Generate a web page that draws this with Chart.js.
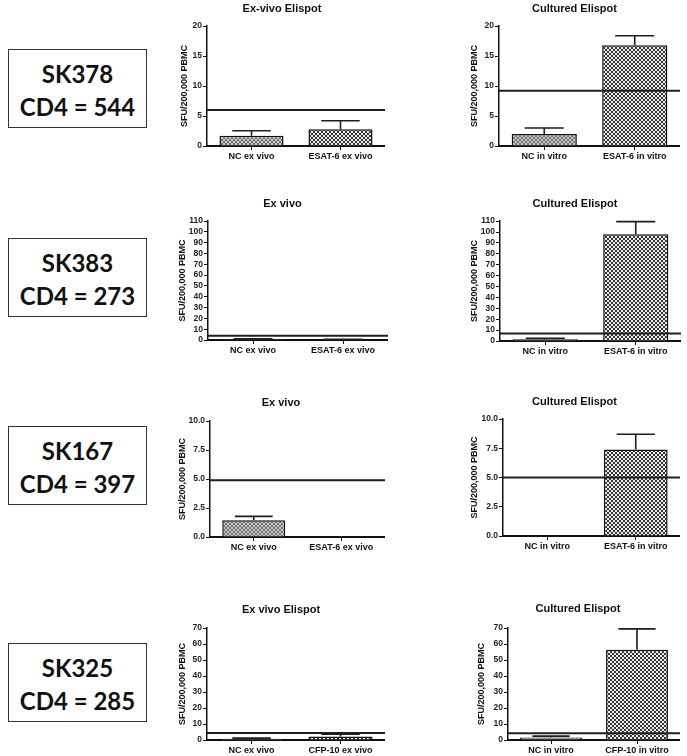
<!DOCTYPE html>
<html lang="en">
<head>
    <meta charset="UTF-8">
    <script src="https://cdn.jsdelivr.net/npm/chart.js"></script>
    <title>Elispot</title>
    <style>
        body {
            margin: 0;
            background: #fff;
            width: 687px;
            height: 756px;
            position: relative;
            overflow: hidden;
            font-family: Arial, sans-serif;
        }
        .box {
            position: absolute;
            left: 8px;
            width: 139px;
            height: 79px;
            border: 1.5px solid #333;
            font-family: Lato, "Open Sans", sans-serif;
            font-weight: bold;
            font-size: 24px;
            line-height: 33px;
            text-align: center;
            padding-top: 7px;
            box-sizing: border-box;
            color: #111;
        }
        .panel {
            position: absolute;
        }
    </style>
</head>
<body>
<script>
    // patients and CD4 counts
    const patients = ['SK378', 'SK383', 'SK167', 'SK325'];
    const cd4Counts = [544, 273, 397, 285];

    // left column (ex vivo)
    const exVivoTitles = ['Ex-vivo Elispot', 'Ex vivo', 'Ex vivo', 'Ex vivo Elispot'];
    const exVivoLabels = [
        ['NC ex vivo', 'ESAT-6 ex vivo'],
        ['NC ex vivo', 'ESAT-6 ex vivo'],
        ['NC ex vivo', 'ESAT-6 ex vivo'],
        ['NC ex vivo', 'CFP-10 ex vivo']
    ];
    const exVivoMeans = [[1.7, 2.8], [0.9, 0.5], [1.45, 0.05], [0.8, 2.2]];
    const exVivoErrors = [[0.85, 1.4], [0.3, 0.2], [0.33, 0], [0.4, 1.5]];
    const exVivoCutoffs = [6, 4, 4.9, 4.4];

    // right column (cultured)
    const culturedTitles = ['Cultured Elispot', 'Cultured Elispot', 'Cultured Elispot', 'Cultured Elispot'];
    const culturedLabels = [
        ['NC in vitro', 'ESAT-6 in vitro'],
        ['NC in vitro', 'ESAT-6 in vitro'],
        ['NC in vitro', 'ESAT-6 in vitro'],
        ['NC in vitro', 'CFP-10 in vitro']
    ];
    const culturedMeans = [[2.0, 16.8], [1.5, 98], [0, 7.4], [1.6, 56.5]];
    const culturedErrors = [[1.0, 1.6], [1.0, 11.5], [0, 1.3], [0.8, 13]];
    const culturedCutoffs = [9.2, 6.8, 5, 4.2];

    // y axis per row
    const yMax = [20, 110, 10, 70];
    const yStep = [5, 10, 2.5, 10];
    const yDecimals = [0, 0, 1, 0];
    const yTitle = 'SFU/200,000 PBMC';

    // panel placement (left, right, top tick, zero, title centre, y-title centre)
    const leftPanels = [
        {L: 207, R: 385, T: 26, B: 146, ty: 9, yt: 184},
        {L: 208, R: 388, T: 221, B: 340, ty: 204, yt: 182},
        {L: 210, R: 385, T: 421, B: 537, ty: 403, yt: 182},
        {L: 207, R: 385, T: 628, B: 740, ty: 610, yt: 182}
    ];
    const rightPanels = [
        {L: 499, R: 680, T: 26, B: 146, ty: 9, yt: 474},
        {L: 500, R: 681, T: 221, B: 341, ty: 204, yt: 474},
        {L: 503, R: 680, T: 419, B: 536, ty: 402, yt: 474},
        {L: 508, R: 680, T: 628, B: 740, ty: 609, yt: 481}
    ];
    const boxTops = [49, 238, 426, 643];

    function makePattern(bg, fg, size, cell) {
        const c = document.createElement('canvas');
        c.width = size; c.height = size;
        const g = c.getContext('2d');
        g.fillStyle = bg;
        g.fillRect(0, 0, size, size);
        g.fillStyle = fg;
        g.fillRect(0, 0, cell, cell);
        g.fillRect(cell, cell, cell, cell);
        return g.createPattern(c, 'repeat');
    }
    const patNC = makePattern('#c6c6c6', '#747474', 4, 2);
    const patAg = makePattern('#ececec', '#333333', 4, 2);

    function addPanel(p, title, labels, means, errs, cutoff, row) {
        const yW = Math.round(p.L - p.yt + 5.4);
        const top = Math.round(p.ty - 6 - 2);
        const div = document.createElement('div');
        div.className = 'panel';
        div.style.left = (p.L - yW) + 'px';
        div.style.top = top + 'px';
        div.style.width = (p.R - p.L + yW) + 'px';
        div.style.height = (p.B - top + 20) + 'px';
        const canvas = document.createElement('canvas');
        div.appendChild(canvas);
        document.body.appendChild(div);

        const extras = {
            id: 'extras',
            afterDatasetsDraw(chart) {
                const ctx = chart.ctx;
                const y = chart.scales.y;
                const meta = chart.getDatasetMeta(0);
                ctx.save();
                ctx.strokeStyle = '#1e1e1e';
                ctx.lineWidth = 1.6;
                meta.data.forEach((bar, i) => {
                    if (!errs[i]) return;
                    const yTop = y.getPixelForValue(means[i] + errs[i]);
                    const w = bar.width * 0.6;
                    ctx.beginPath();
                    ctx.moveTo(bar.x, bar.y);
                    ctx.lineTo(bar.x, yTop);
                    ctx.moveTo(bar.x - w / 2, yTop);
                    ctx.lineTo(bar.x + w / 2, yTop);
                    ctx.stroke();
                });
                const cy = y.getPixelForValue(cutoff);
                ctx.lineWidth = 2;
                ctx.beginPath();
                ctx.moveTo(chart.chartArea.left, cy);
                ctx.lineTo(chart.chartArea.right, cy);
                ctx.stroke();
                ctx.restore();
            }
        };

        new Chart(canvas, {
            type: 'bar',
            data: {
                labels: labels,
                datasets: [{
                    data: means,
                    backgroundColor: [patNC, patAg],
                    borderColor: '#111',
                    borderWidth: 1.5,
                    categoryPercentage: 1,
                    barPercentage: 0.72
                }]
            },
            options: {
                responsive: true,
                maintainAspectRatio: false,
                animation: false,
                layout: {padding: 0},
                plugins: {
                    legend: {display: false},
                    tooltip: {enabled: false},
                    title: {
                        display: true,
                        text: title,
                        color: '#111',
                        font: {family: 'Arial', size: 11, weight: 'bold', lineHeight: 1.1},
                        padding: {top: 2, bottom: Math.max(0, p.T - top - 2 - 12)}
                    }
                },
                scales: {
                    x: {
                        grid: {display: true, drawOnChartArea: false, drawTicks: true, tickLength: 4, color: '#111', offset: false},
                        border: {display: true, color: '#111', width: 2},
                        ticks: {color: '#111', font: {family: 'Arial', size: 9, weight: 'bold'}, padding: 1, maxRotation: 0},
                        afterFit: s => { s.height = 20; }
                    },
                    y: {
                        min: 0,
                        max: yMax[row],
                        grid: {display: true, drawOnChartArea: false, drawTicks: true, tickLength: 4, color: '#111'},
                        border: {display: true, color: '#111', width: 1.5},
                        ticks: {
                            stepSize: yStep[row],
                            autoSkip: false,
                            color: '#222',
                            padding: 1,
                            font: {family: 'Arial', size: 8.5, weight: 'bold'},
                            callback: v => Number(v).toFixed(yDecimals[row])
                        },
                        title: {
                            display: true,
                            text: yTitle,
                            color: '#111',
                            font: {family: 'Arial', size: 9, weight: 'bold'},
                            padding: 0
                        },
                        afterFit: s => { s.width = yW; }
                    }
                }
            },
            plugins: [extras]
        });
    }

    patients.forEach((name, i) => {
        const box = document.createElement('div');
        box.className = 'box';
        box.style.top = boxTops[i] + 'px';
        box.innerHTML = name + '<br>CD4 = ' + cd4Counts[i];
        document.body.appendChild(box);

        addPanel(leftPanels[i], exVivoTitles[i], exVivoLabels[i], exVivoMeans[i], exVivoErrors[i], exVivoCutoffs[i], i);
        addPanel(rightPanels[i], culturedTitles[i], culturedLabels[i], culturedMeans[i], culturedErrors[i], culturedCutoffs[i], i);
    });
</script>
</body>
</html>
